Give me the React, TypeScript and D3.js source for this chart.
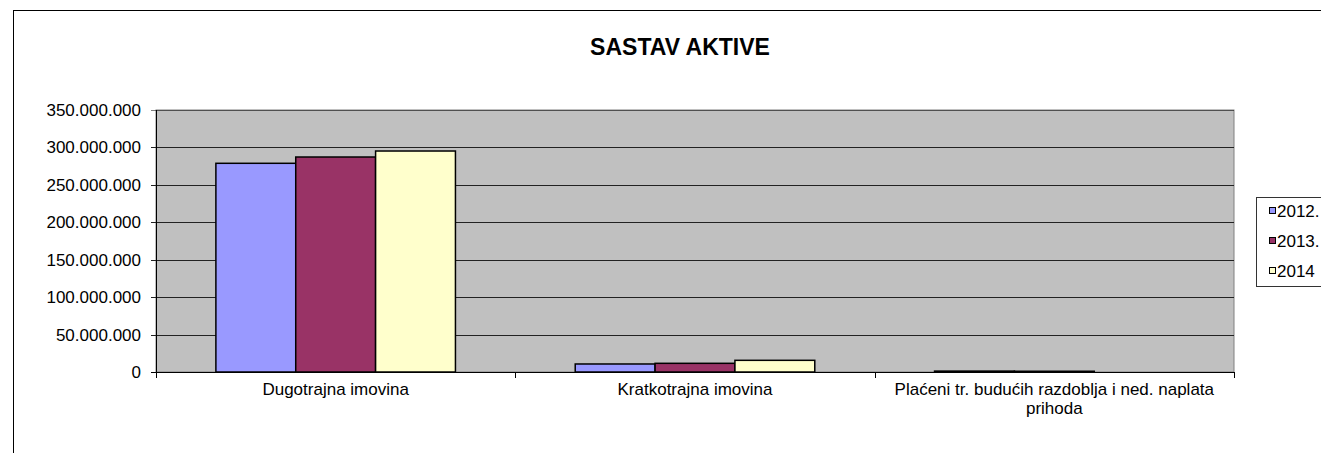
import { useMemo } from "react";
import * as d3 from "d3";

// chart data
const categories = [
  "Dugotrajna imovina",
  "Kratkotrajna imovina",
  "Plaćeni tr. budućih razdoblja i ned. naplata prihoda",
];
const seriesNames = ["2012.", "2013.", "2014"];
const values2012 = [278800000, 10700000, 1200000];
const values2013 = [287200000, 11600000, 1000000];
const values2014 = [295200000, 15600000, 0];
const yTicks = [0, 50000000, 100000000, 150000000, 200000000, 250000000, 300000000, 350000000];

const seriesColors = ["#9999FF", "#993366", "#FFFFCC"];
const FONT = "'Liberation Sans', Arial, sans-serif";

const W = 1321;
const H = 453;
const margin = { top: 110, right: 87, bottom: 81, left: 156 };

const fmt = d3.formatLocale({
  decimal: ",",
  thousands: ".",
  grouping: [3],
  currency: ["", ""],
}).format(",");

// wrap a label into lines no wider than maxW
function wrapLabel(text: string, maxW: number, font: string): string[] {
  const ctx = document.createElement("canvas").getContext("2d");
  if (!ctx) return [text];
  ctx.font = font;
  const words = text.split(" ");
  const lines: string[] = [];
  let line = "";
  for (const w of words) {
    const test = line ? line + " " + w : w;
    if (ctx.measureText(test).width > maxW && line) {
      lines.push(line);
      line = w;
    } else {
      line = test;
    }
  }
  if (line) lines.push(line);
  return lines;
}

const App = () => {
  const plotW = W - margin.left - margin.right;
  const bottomY = H - margin.bottom;

  const table = categories.map((c, i) => ({
    name: c,
    vals: [values2012[i], values2013[i], values2014[i]],
  }));

  const x0 = d3.scaleBand().domain(categories).range([margin.left, margin.left + plotW]).padding(0);

  // Excel gap width 150%
  const x1 = d3
    .scaleBand()
    .domain(seriesNames)
    .range([0, x0.bandwidth()])
    .paddingInner(0)
    .paddingOuter(0.75);

  const y = d3.scaleLinear().domain([0, 350000000]).range([bottomY, margin.top]);

  const labelLines = useMemo(
    () => categories.map((c) => wrapLabel(c, x0.bandwidth() - 6, `17px ${FONT}`)),
    []
  );

  const boundaries = [...categories.map((c) => x0(c) as number), margin.left + plotW];

  return (
    <svg
      width={W}
      height={H}
      viewBox={`0 0 ${W} ${H}`}
      style={{ position: "absolute", left: 0, top: 0, background: "#fff" }}
      fontFamily={FONT}
    >
      {/* chart frame */}
      <rect x={13.5} y={10.5} width={W + 20} height={H + 20} fill="#fff" stroke="#000" />

      <text x={680} y={55} textAnchor="middle" fontSize={23} fontWeight="bold" fill="#000">
        SASTAV AKTIVE
      </text>

      {/* plot area */}
      <rect
        x={margin.left}
        y={margin.top}
        width={plotW}
        height={bottomY - margin.top}
        fill="#C0C0C0"
        stroke="#808080"
      />

      <g className="grid">
        {yTicks.map((t) => (
          <line
            key={t}
            x1={margin.left - 5}
            x2={margin.left + plotW}
            y1={Math.round(y(t)) + 0.5}
            y2={Math.round(y(t)) + 0.5}
            stroke={t === 0 || t === 350000000 ? "#000" : "#222"}
            strokeOpacity={t === 350000000 ? 0.5 : 1}
          />
        ))}
      </g>

      <g className="bars">
        {table.map((d) =>
          d.vals.map((v, j) =>
            v > 0 ? (
              <rect
                key={d.name + j}
                x={(x0(d.name) as number) + (x1(seriesNames[j]) as number)}
                y={y(v)}
                width={x1.bandwidth()}
                height={bottomY - y(v)}
                fill={seriesColors[j]}
                stroke="#000"
                strokeWidth={1.5}
              />
            ) : null
          )
        )}
      </g>

      {/* axes */}
      <line x1={margin.left + 0.5} x2={margin.left + 0.5} y1={margin.top} y2={bottomY} stroke="#000" />
      <line x1={margin.left} x2={margin.left + plotW} y1={bottomY + 0.5} y2={bottomY + 0.5} stroke="#000" />
      {boundaries.map((bx, i) => (
        <line key={i} x1={Math.round(bx) + 0.5} x2={Math.round(bx) + 0.5} y1={bottomY} y2={bottomY + 6} stroke="#000" />
      ))}

      <g className="y-labels">
        {yTicks.map((t) => (
          <text key={t} x={margin.left - 15} y={y(t)} dy="0.35em" textAnchor="end" fontSize={17} fill="#000">
            {fmt(t)}
          </text>
        ))}
      </g>

      <g className="x-labels">
        {categories.map((c, i) => (
          <text key={c} x={(x0(c) as number) + x0.bandwidth() / 2} y={bottomY + 23} textAnchor="middle" fontSize={17} fill="#000">
            {labelLines[i].map((l, k) => (
              <tspan key={k} x={(x0(c) as number) + x0.bandwidth() / 2} dy={k === 0 ? 0 : 19}>
                {l}
              </tspan>
            ))}
          </text>
        ))}
      </g>

      {/* legend */}
      <g className="legend">
        <rect x={1256.5} y={197.5} width={80} height={89} fill="#fff" stroke="#333" />
        {seriesNames.map((s, i) => (
          <g key={s} transform={`translate(1269,${211 + i * 30})`}>
            <rect x={0.5} y={-3.5} width={6} height={6} fill={seriesColors[i]} stroke="#000" />
            <text x={8} y={0} dy="0.35em" fontSize={17} fill="#000">
              {s}
            </text>
          </g>
        ))}
      </g>
    </svg>
  );
};

export default App;
